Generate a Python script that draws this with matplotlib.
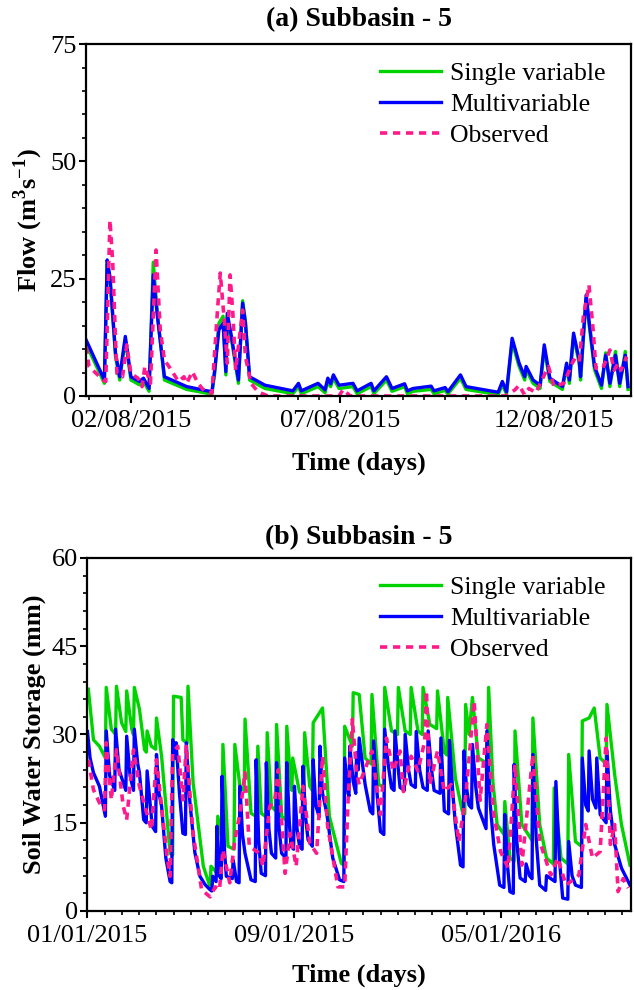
import numpy as np
import pandas as pd
import matplotlib
matplotlib.use("Agg")
import matplotlib.pyplot as plt
import matplotlib.dates as mdates
from matplotlib.ticker import AutoMinorLocator, MultipleLocator

plt.rcParams['font.family'] = ['Liberation Serif', 'DejaVu Serif']
plt.rcParams['mathtext.fontset'] = 'custom'
plt.rcParams['mathtext.rm'] = 'Liberation Serif'
plt.rcParams['mathtext.bf'] = 'Liberation Serif:bold'

START = pd.Timestamp('2015-01-01')

# ---- panel (a): daily flow, x = days since 01/01/2015 ----
flow_days = [6, 19, 21, 23, 27, 30, 34, 38, 44, 47, 51, 54, 57, 62, 78, 96, 98, 101, 104,
             106, 107, 110, 115, 118, 120, 123, 134, 154, 158, 160, 172, 177, 179, 181, 183,
             187, 197, 200, 210, 212, 221, 225, 234, 236, 240, 253, 255, 263, 265, 274, 278,
             301, 304, 307, 311, 316, 320, 321, 326, 331, 334, 338, 347, 350, 352, 355, 359,
             360, 364, 366, 370, 375, 378, 381, 385, 388, 392, 394]
flow_multi = [11.9, 3.4, 29.0, 25.4, 9.1, 4.1, 12.7, 4.1, 3.1, 3.8, 1.6, 25.8, 16.9, 4.1, 2.0,
              0.9, 5.5, 14.1, 15.5, 5.2, 17.6, 12.7, 3.4, 19.8, 15.5, 4.1, 2.3, 1.1, 2.7, 1.1,
              2.7, 1.3, 3.8, 2.6, 4.5, 2.3, 2.7, 1.1, 2.7, 1.1, 4.1, 1.6, 2.6, 1.1, 1.6, 2.1,
              1.1, 1.8, 0.9, 4.5, 2.0, 0.8, 3.1, 0.9, 12.3, 7.0, 4.1, 6.3, 3.4, 2.3, 10.9, 3.8,
              2.0, 7.0, 3.4, 13.4, 7.7, 4.1, 21.5, 16.2, 6.3, 2.3, 8.7, 2.7, 8.7, 2.7, 8.7, 2.0]
flow_single = [11.0, 2.7, 28.2, 25.0, 8.3, 3.4, 12.0, 3.4, 2.4, 3.1, 1.0, 28.5, 17.5, 3.4, 1.4,
               0.4, 4.8, 15.5, 17.0, 4.5, 16.7, 12.0, 2.7, 20.3, 16.0, 3.4, 1.6, 0.5, 2.0, 0.5,
               2.0, 0.7, 3.1, 2.0, 3.8, 1.6, 2.0, 0.5, 2.0, 0.5, 3.4, 1.0, 2.0, 0.5, 1.0, 1.4,
               0.5, 1.2, 0.4, 3.8, 1.4, 0.3, 2.4, 0.4, 11.5, 6.3, 3.4, 5.6, 2.7, 1.6, 10.2, 3.1,
               1.4, 6.3, 2.7, 12.7, 7.0, 3.4, 20.8, 15.5, 5.6, 1.6, 9.2, 2.0, 9.5, 2.0, 9.5, 1.4]
obs_days = [6, 8, 18, 20, 23, 25, 27, 28, 32, 35, 38, 43, 46, 48, 52, 56, 59, 62, 67, 72, 76,
            78, 82, 86, 91, 96, 100, 102, 105, 107, 109, 111, 113, 118, 120, 124, 129, 136,
            187, 190, 195, 306, 313, 316, 320, 323, 328, 337, 341, 348, 352, 355, 359, 362,
            366, 369, 371, 376, 381, 384, 387, 389, 393]
flow_obs = [10.5, 6.3, 3.4, 3.1, 37.5, 28.3, 11.9, 4.8, 4.1, 10.9, 4.8, 3.8, 2.0, 6.3, 2.7,
            31.1, 14.1, 7.7, 5.5, 3.1, 4.1, 2.7, 5.2, 2.7, 0.9, 0.6, 18.3, 26.2, 15.5, 7.0,
            25.8, 17.6, 5.5, 18.3, 8.4, 2.7, 0.9, 0.0, 0.0, 1.4, 0.0, 0.0, 1.3, 2.3, 0.2, 1.6,
            0.7, 6.3, 2.0, 2.7, 5.5, 7.7, 7.0, 16.9, 23.7, 14.1, 5.9, 5.9, 9.8, 5.5, 7.0, 5.5, 8.4]

# ---- panel (b): soil water storage ----
sws_multi_days = [0, 3, 7, 14, 21, 22, 26, 32, 33, 37, 45, 46, 50, 54, 55, 59, 61, 66, 69, 70,
                  76, 80, 81, 84, 87, 92, 97, 99, 100, 102, 103, 104, 108, 112, 115, 116, 120,
                  126, 132, 138, 144, 146, 147, 151, 152, 155, 157, 158, 161, 163, 170, 171,
                  175, 178, 179, 182, 185, 192, 197, 198, 201, 204, 209, 210, 213, 216, 221,
                  222, 225, 228, 233, 234, 237, 239, 242, 243, 246, 249, 252, 253, 256, 259,
                  264, 265, 268, 272, 273, 276, 281, 288, 296, 301, 302, 306, 307, 308, 312,
                  315, 316, 318, 319, 326, 332, 335, 336, 340, 344, 348, 349, 353, 357, 360,
                  361, 365, 367, 372, 373, 377, 380, 385, 386, 390, 394, 399, 400, 404, 407,
                  414, 415, 419, 424, 425, 429, 432, 438, 441, 442, 445, 448, 451, 452, 456,
                  459, 468, 469, 473, 477, 484, 489, 490, 493, 496, 500, 501, 504, 508, 514,
                  515, 519, 522, 523, 527, 531, 538, 539, 549, 550, 554, 558, 564, 565, 569,
                  573, 580, 581, 585, 588, 589, 593, 597, 598, 602, 609, 610, 614, 619, 627, 637]
sws_multi = [30.5, 26.0, 23.5, 21.2, 16.1, 30.6, 23.0, 20.5, 30.9, 24.0, 20.5, 29.7, 23.0, 20.5,
             30.9, 25.0, 23.5, 15.5, 15.0, 23.8, 14.4, 13.5, 26.6, 20.0, 17.8, 9.0, 5.0, 4.8,
             29.1, 27.0, 26.0, 28.6, 20.0, 13.2, 13.0, 28.6, 18.9, 10.0, 5.9, 4.5, 3.6, 3.4,
             5.9, 5.0, 14.4, 5.9, 5.5, 22.9, 10.0, 5.9, 5.5, 8.7, 5.0, 4.8, 21.2, 13.0, 9.8,
             5.3, 5.0, 25.7, 12.0, 6.4, 6.0, 25.2, 14.0, 9.8, 9.0, 25.2, 14.0, 9.8, 9.0, 25.2,
             15.0, 11.0, 10.5, 21.2, 14.0, 11.0, 10.5, 24.6, 16.0, 12.1, 11.0, 25.7, 18.0, 16.0,
             28.0, 20.0, 16.6, 9.0, 5.3, 5.0, 26.0, 20.0, 19.5, 28.0, 22.0, 20.0, 26.9, 24.0,
             29.4, 21.5, 17.0, 16.5, 28.9, 20.0, 13.5, 13.0, 30.9, 25.0, 20.9, 20.5, 30.6, 24.0,
             21.0, 20.5, 30.0, 24.0, 21.5, 21.0, 30.5, 24.0, 21.0, 20.5, 30.6, 24.0, 20.5, 20.0,
             29.4, 17.0, 16.5, 29.0, 20.0, 14.7, 7.8, 7.5, 27.2, 21.0, 18.0, 17.5, 28.3, 21.0,
             17.5, 14.0, 30.6, 18.0, 11.3, 4.4, 4.0, 16.4, 8.0, 3.3, 3.0, 24.9, 12.0, 5.6, 5.0,
             8.0, 6.0, 5.5, 26.6, 12.0, 4.4, 3.5, 6.0, 5.0, 22.0, 9.0, 2.2, 2.0, 11.8, 6.0, 4.4,
             4.0, 26.0, 18.0, 17.0, 27.2, 19.0, 17.5, 26.0, 16.4, 15.0, 27.2, 17.0, 11.3, 7.3, 4.4]
sws_single_days = [1, 7, 14, 20, 21, 22, 28, 33, 34, 40, 45, 46, 52, 54, 55, 61, 67, 69, 70, 75,
                   80, 81, 87, 97, 100, 101, 110, 112, 117, 118, 124, 136, 144, 145, 152, 153,
                   158, 159, 165, 172, 173, 179, 184, 185, 192, 199, 200, 204, 210, 211, 216,
                   221, 222, 228, 233, 234, 239, 240, 241, 249, 254, 255, 261, 264, 265, 276,
                   284, 298, 301, 302, 311, 312, 319, 326, 333, 334, 342, 348, 349, 357, 364,
                   365, 373, 379, 380, 388, 393, 394, 402, 410, 411, 419, 422, 423, 432, 440,
                   443, 444, 448, 452, 459, 470, 471, 476, 481, 489, 490, 496, 501, 502, 510,
                   522, 523, 531, 539, 547, 548, 556, 564, 565, 573, 580, 581, 589, 595, 602,
                   609, 610, 619, 627, 637]
sws_single = [37.7, 29.1, 28.0, 26.3, 26.0, 38.0, 30.9, 30.0, 38.2, 32.0, 30.5, 37.4, 30.9,
              30.0, 38.0, 34.3, 27.4, 27.0, 30.6, 28.0, 27.5, 32.8, 26.3, 9.8, 9.5, 36.5, 36.3,
              29.1, 28.5, 38.2, 21.8, 7.6, 4.1, 7.6, 6.5, 16.1, 12.0, 28.3, 11.0, 10.5, 28.3,
              21.2, 20.5, 32.6, 16.6, 16.0, 28.0, 16.6, 16.0, 30.3, 17.8, 17.0, 31.7, 16.1, 15.5,
              31.4, 21.2, 20.5, 26.0, 20.2, 19.5, 30.3, 21.2, 20.5, 32.0, 34.5, 16.1, 8.1, 7.8,
              31.4, 28.0, 37.1, 36.8, 26.0, 25.0, 36.8, 21.5, 21.0, 38.0, 30.6, 30.0, 38.0, 30.6,
              30.0, 38.0, 30.6, 30.0, 38.0, 31.7, 31.0, 37.4, 27.0, 26.5, 36.3, 22.6, 17.0, 16.5,
              35.1, 30.0, 36.3, 26.0, 25.0, 38.0, 22.0, 14.7, 13.0, 18.6, 9.0, 8.5, 30.6, 14.7,
              12.0, 32.8, 14.7, 9.0, 8.0, 20.9, 9.0, 8.0, 26.6, 11.8, 11.0, 32.3, 32.8, 34.5,
              26.0, 25.0, 35.1, 23.2, 14.7, 7.8]
sws_obs_days = [1, 7, 14, 20, 22, 28, 34, 42, 46, 54, 61, 75, 81, 93, 97, 100, 106, 112, 116,
                124, 134, 144, 150, 155, 159, 167, 173, 179, 185, 190, 202, 206, 214, 220, 224,
                232, 238, 245, 253, 261, 269, 276, 282, 294, 302, 306, 311, 316, 319, 328, 334,
                344, 351, 359, 367, 371, 380, 388, 396, 398, 402, 411, 419, 427, 436, 444, 454,
                461, 469, 477, 485, 494, 502, 510, 523, 531, 544, 552, 562, 577, 585, 593, 602,
                609, 614, 619, 623, 629, 635]
sws_obs = [25.7, 20.6, 18.4, 17.2, 28.6, 18.9, 27.4, 17.8, 15.5, 27.4, 21.2, 13.8, 25.7, 9.8,
           5.9, 26.9, 28.0, 18.9, 28.0, 13.2, 3.6, 2.4, 4.1, 3.6, 10.4, 4.8, 12.1, 16.6, 23.5,
           11.0, 9.8, 7.6, 17.8, 18.9, 24.0, 6.4, 13.2, 7.6, 21.2, 11.5, 9.8, 26.3, 14.4, 4.1,
           4.1, 18.9, 32.6, 23.5, 21.5, 24.9, 27.2, 16.4, 29.4, 23.8, 27.2, 20.3, 26.3, 23.8,
           28.9, 37.4, 21.5, 27.2, 20.3, 21.5, 11.8, 19.3, 35.7, 18.8, 31.7, 16.4, 10.1, 7.3,
           24.9, 7.8, 26.6, 11.8, 6.1, 9.0, 4.4, 6.1, 14.7, 9.0, 10.1, 29.4, 11.3, 14.7, 3.3,
           5.5, 3.9]

GREEN = '#00d400'
BLUE = '#0000ff'
PINK = '#ff1a8c'


def to_dates(days):
    return START + pd.to_timedelta(days, unit='D')


def style_axes(ax, ylabel, ymax, ystep, majors, minor_step, xlim, title, title_pad, xlabel_pad):
    ax.set_title(title, fontsize=20, fontweight='bold', pad=title_pad)
    ax.set_ylabel(ylabel, fontsize=19, fontweight='bold', labelpad=4)
    ax.set_xlabel('Time (days)', fontsize=19, fontweight='bold', labelpad=xlabel_pad)
    ax.set_ylim(0, ymax)
    ax.yaxis.set_major_locator(MultipleLocator(ystep))
    ax.yaxis.set_minor_locator(AutoMinorLocator(5))
    ax.set_xlim(pd.Timestamp(xlim[0]), pd.Timestamp(xlim[1]))
    major = [mdates.date2num(pd.Timestamp(d)) for d in majors]
    ax.set_xticks(major)
    ax.xaxis.set_major_formatter(mdates.DateFormatter('%m/%d/%Y'))
    lo, hi = ax.get_xlim()
    minor = np.arange(major[0], lo, -minor_step)[::-1].tolist() + \
        np.arange(major[0], hi, minor_step).tolist()
    ax.set_xticks(minor, minor=True)
    ax.tick_params(axis='both', which='major', direction='out', length=5, width=1.5,
                   labelsize=19, pad=2)
    ax.tick_params(axis='x', which='major', pad=5)
    ax.tick_params(axis='both', which='minor', direction='out', length=3, width=1.2)
    for s in ax.spines.values():
        s.set_linewidth(1.6)
    leg = ax.legend(loc='upper right', bbox_to_anchor=(0.987, 1.0), frameon=False,
                    fontsize=18.5, handlelength=2.4, handletextpad=0.35,
                    labelspacing=0.32, borderaxespad=0.3)
    return leg


fig = plt.figure(figsize=(6.34, 9.9), dpi=100)
ax1 = fig.add_axes([0.136, 0.6, 0.859, 0.3555])
ax2 = fig.add_axes([0.138, 0.0798, 0.857, 0.3566])

ax1.plot(to_dates(flow_days), flow_single, color=GREEN, lw=2.4, label='Single variable')
ax1.plot(to_dates(flow_days), flow_multi, color=BLUE, lw=2.4, label='Multivariable')
ax1.plot(to_dates(obs_days), flow_obs, color=PINK, lw=2.6, ls=(0, (2, 1.6)), label='Observed')
style_axes(ax1, 'Flow (m$^{\\mathbf{3}}$s$^{\\mathbf{-1}}$)', 75, 25,
           ['2015-02-08', '2015-07-08', '2015-12-08'], 15.0,
           ('2015-01-07', '2016-02-01'), '(a) Subbasin - 5', 13, 14)

ax2.plot(to_dates(sws_single_days), sws_single, color=GREEN, lw=2.4, label='Single variable')
ax2.plot(to_dates(sws_multi_days), sws_multi, color=BLUE, lw=2.4, label='Multivariable')
ax2.plot(to_dates(sws_obs_days), sws_obs, color=PINK, lw=2.6, ls=(0, (2, 1.6)), label='Observed')
style_axes(ax2, 'Soil Water Storage (mm)', 60, 15,
           ['2015-01-01', '2015-09-01', '2016-05-01'], 243 / 12.0,
           ('2015-01-01', '2016-09-30'), '(b) Subbasin - 5', 10, 12)

fig.savefig('out.png', dpi=100)
